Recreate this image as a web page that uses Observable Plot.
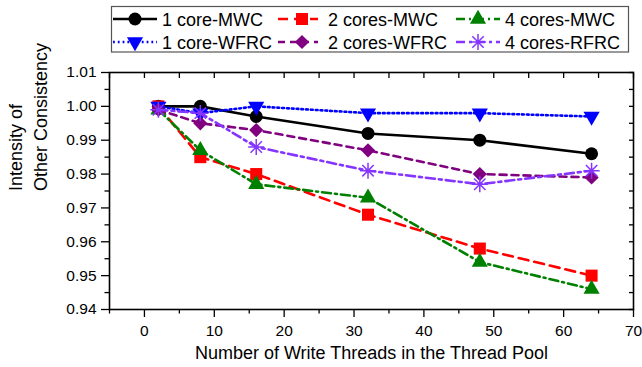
<!DOCTYPE html>
<html>
<head>
<meta charset="utf-8">
<script src="https://cdn.jsdelivr.net/npm/d3@7"></script>
<script src="https://cdn.jsdelivr.net/npm/@observablehq/plot@0.6"></script>
<style>
  html, body { margin: 0; padding: 0; background: #fff; }
  #wrap { position: relative; width: 642px; height: 367px; }
  #legend { position: absolute; left: 0; top: 0; }
  #wrap svg g[aria-label="x-axis tick label"],
  #wrap svg g[aria-label="y-axis tick label"] { font-size: 15.5px; }
</style>
</head>
<body>
<div id="wrap"></div>
<script>
// ---- data ----
const threads = [2, 8, 16, 32, 48, 64];
const core1MWC   = [1.000, 1.000, 0.997, 0.992, 0.990, 0.986];
const cores2MWC  = [1.000, 0.985, 0.980, 0.968, 0.958, 0.950];
const cores4MWC  = [0.999, 0.987, 0.977, 0.973, 0.954, 0.946];
const core1WFRC  = [1.000, 0.998, 1.000, 0.998, 0.998, 0.997];
const cores2WFRC = [0.999, 0.995, 0.993, 0.987, 0.980, 0.979];
const cores4RFRC = [0.999, 0.998, 0.988, 0.981, 0.977, 0.981];

const seriesNames = ["1 core-MWC", "2 cores-MWC", "4 cores-MWC", "1 core-WFRC", "2 cores-WFRC", "4 cores-RFRC"];
const xMajorTicks = [0, 10, 20, 30, 40, 50, 60, 70];
const xMinorTicks = [-5, 5, 15, 25, 35, 45, 55, 65];
const yMajorTicks = [0.94, 0.95, 0.96, 0.97, 0.98, 0.99, 1.00, 1.01];
const yMinorTicks = [0.945, 0.955, 0.965, 0.975, 0.985, 0.995, 1.005];
const xTitle = "Number of Write Threads in the Thread Pool";
const yTitle = "Intensity of\nOther Consistency";

// ---- custom symbols ----
const sqrt3 = Math.sqrt(3);
const triangleDown = {
  draw(ctx, size) {
    const y = -Math.sqrt(size / (sqrt3 * 3));
    ctx.moveTo(0, -y * 2);
    ctx.lineTo(-sqrt3 * y, y);
    ctx.lineTo(sqrt3 * y, y);
    ctx.closePath();
  }
};
const asterisk8 = {
  draw(ctx, size) {
    const r = Math.sqrt(size / Math.PI) * 1.3;
    for (let i = 0; i < 4; i++) {
      const a = i * Math.PI / 4;
      ctx.moveTo(-r * Math.cos(a), -r * Math.sin(a));
      ctx.lineTo(r * Math.cos(a), r * Math.sin(a));
    }
  }
};

const styles = [
  {values: core1MWC,   color: "#000000", dash: null,        symbol: "circle",      r: 6.5, filled: true},
  {values: cores2MWC,  color: "#ff0000", dash: "10,6",      symbol: "square",      r: 6.8, filled: true},
  {values: cores4MWC,  color: "#008000", dash: "9,4,2,4",   symbol: "triangle",    r: 6.0, filled: true},
  {values: core1WFRC,  color: "#0000ff", dash: "1.8,3",     symbol: triangleDown,  r: 6.0, filled: true},
  {values: cores2WFRC, color: "#800080", dash: "7,5",       symbol: "diamond2",    r: 6.4, filled: true},
  {values: cores4RFRC, color: "#8535ff", dash: "9,4,3,4",   symbol: asterisk8,     r: 6.2, filled: false}
];

const seriesMarks = [];
styles.forEach((s, i) => {
  const rows = threads.map((t, j) => ({x: t, y: s.values[j], name: seriesNames[i]}));
  seriesMarks.push(Plot.line(rows, {x: "x", y: "y", stroke: s.color, strokeWidth: 2.6,
    strokeDasharray: s.dash || undefined}));
  seriesMarks.push(Plot.dot(rows, s.filled
    ? {x: "x", y: "y", symbol: () => s.symbol, fill: s.color, stroke: "none", r: s.r}
    : {x: "x", y: "y", symbol: () => s.symbol, fill: "none", stroke: s.color, strokeWidth: 1.5, r: s.r}));
});

const chart = Plot.plot({
  width: 642,
  height: 367,
  marginLeft: 109,
  marginRight: 9,
  marginTop: 72,
  marginBottom: 58,
  x: {domain: [-5, 70]},
  y: {domain: [0.94, 1.01]},
  symbol: {type: "identity"},
  style: {fontFamily: "'Liberation Sans', Arial, sans-serif", fontSize: "15px", color: "#000", background: "#fff"},
  marks: [
    Plot.axisX({ticks: xMajorTicks, tickSize: 8, tickPadding: 7, tickFormat: d => String(d), label: null, strokeWidth: 1.3, fontSize: 15.5}),
    Plot.axisX({ticks: xMinorTicks, tickSize: 4.5, text: null, label: null, strokeWidth: 1.3}),
    Plot.axisX({anchor: "top", ticks: xMajorTicks.concat(xMinorTicks), tickSize: 5, dy: 5, text: null, label: null, strokeWidth: 1.3}),
    Plot.axisY({ticks: yMajorTicks, tickSize: 8, tickPadding: 5, tickFormat: d3.format(".2f"), label: null, strokeWidth: 1.3, fontSize: 15.5}),
    Plot.axisY({ticks: yMinorTicks, tickSize: 4.5, text: null, label: null, strokeWidth: 1.3}),
    Plot.axisY({anchor: "right", ticks: yMajorTicks.concat(yMinorTicks), tickSize: 5, dx: -5, text: null, label: null, strokeWidth: 1.3}),
    Plot.frame({stroke: "#000", strokeWidth: 1.6}),
    ...seriesMarks,
    Plot.text([xTitle], {text: d => d, frameAnchor: "bottom", dy: 43.5, lineAnchor: "middle", fontSize: 18}),
    Plot.text([yTitle], {text: d => d, frameAnchor: "left", rotate: -90, dx: -83, lineAnchor: "middle", lineHeight: 1.38, fontSize: 18})
  ]
});

const wrap = document.getElementById("wrap");
wrap.appendChild(chart);

// ---- legend (drawn above the plot area) ----
const legend = d3.select(wrap).append("svg")
  .attr("id", "legend").attr("width", 642).attr("height", 60)
  .style("font-family", "'Liberation Sans', Arial, sans-serif");
legend.append("rect").attr("x", 111.5).attr("y", 6.5).attr("width", 517).attr("height", 45.5)
  .attr("fill", "#fff").attr("stroke", "#555").attr("stroke-width", 1.2);

const cols = [
  {l1: 113, l2: 157, m: 135, t: 162},
  {l1: 278, l2: 318, m: 302, t: 328},
  {l1: 456, l2: 500, m: 478, t: 505}
];
const rowsY = [19, 42];
styles.forEach((s, i) => {
  const c = cols[i % 3], yy = rowsY[Math.floor(i / 3)];
  legend.append("line").attr("x1", c.l1).attr("x2", c.l2).attr("y1", yy).attr("y2", yy)
    .attr("stroke", s.color).attr("stroke-width", 2.6)
    .attr("stroke-dasharray", s.dash ? s.dash : null);
  let sym;
  if (s.symbol === "circle") sym = d3.symbolCircle;
  else if (s.symbol === "square") sym = d3.symbolSquare;
  else if (s.symbol === "triangle") sym = d3.symbolTriangle;
  else if (s.symbol === "diamond2") sym = d3.symbolDiamond2;
  else sym = s.symbol;
  const p = legend.append("path")
    .attr("transform", `translate(${c.m},${yy})`)
    .attr("d", d3.symbol(sym, Math.PI * s.r * s.r)());
  if (s.filled) p.attr("fill", s.color).attr("stroke", "none");
  else p.attr("fill", "none").attr("stroke", s.color).attr("stroke-width", 1.5);
  legend.append("text").attr("x", c.t).attr("y", yy + 6.5)
    .attr("font-size", 18).attr("fill", "#000").text(seriesNames[i]);
});
</script>
</body>
</html>
